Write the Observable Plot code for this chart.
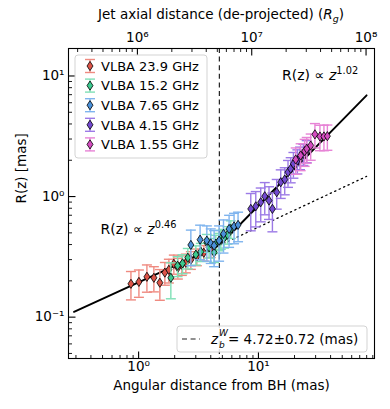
<!DOCTYPE html>
<html><head><meta charset="utf-8">
<script src="https://cdn.jsdelivr.net/npm/d3@7"></script>
<script src="https://cdn.jsdelivr.net/npm/@observablehq/plot@0.6"></script>
<style>body{margin:0;background:#fff;font-family:"DejaVu Sans";}</style>
</head><body><div id="chart"></div>
<script>
// ---- data ----
const seriesNames = ["VLBA 23.9 GHz","VLBA 15.2 GHz","VLBA 7.65 GHz","VLBA 4.15 GHz","VLBA 1.55 GHz"];
const markerColors = ["#dc5448","#3cc98f","#4a90d9","#7249d0","#d44cc0"];
const barColors = ["#ef8a80","#7fe0b6","#7fb4ee","#9c7ae6","#e784d6"];

const z239 = [0.863,1.006,1.173,1.341,1.504,1.656,1.789,1.968,2.126,2.296,2.478,2.729,3.06,3.50,4.00];
const r239 = [0.189,0.196,0.216,0.212,0.193,0.234,0.247,0.277,0.257,0.272,0.283,0.299,0.317,0.342,0.362];
const e239 = [0.05,0.05,0.055,0.05,0.055,0.05,0.055,0.05,0.05,0.05,0.05,0.05,0.05,0.05,0.05];

const z152 = [1.858,2.113,2.326,2.575,3.003,3.305,3.71,3.875,4.266,4.406,4.695,4.85,5.17,5.52,5.88];
const r152 = [0.212,0.267,0.279,0.311,0.330,0.349,0.415,0.379,0.344,0.407,0.425,0.445,0.454,0.483,0.539];
const e152 = [0.07,0.05,0.05,0.06,0.06,0.06,0.07,0.07,0.06,0.07,0.07,0.08,0.08,0.08,0.09];

const z765 = [2.729,3.26,3.71,4.00,4.266,4.695,5.11,5.69,6.26,6.76];
const r765 = [0.397,0.439,0.431,0.409,0.392,0.431,0.490,0.539,0.566,0.582];
const e765 = [0.13,0.14,0.14,0.13,0.13,0.14,0.15,0.16,0.16,0.16];

const z415 = [8.63,9.50,10.45,11.29,12.25,13.08,14.21,15.35,16.57,17.65,18.58,19.58,21.13,22.22,23.71,25.27];
const r415 = [0.790,0.830,0.897,1.006,0.926,0.790,1.086,1.315,1.384,1.592,1.70,1.87,1.99,2.12,2.26,2.41];
const e415 = [0.27,0.27,0.28,0.30,0.28,0.28,0.30,0.35,0.35,0.40,0.40,0.45,0.45,0.45,0.45,0.50];

const z155 = [20.46,22.5,24.3,25.3,27.3,29.6,32.6,35.2,37.6];
const r155 = [2.03,2.19,2.38,2.49,2.65,3.28,3.15,3.15,3.17];
const e155 = [0.5,0.55,0.6,0.6,0.65,0.75,0.75,0.75,0.75];

// fitted broken power law and inner-law extension
const fitZ = [0.289, 4.72, 79.9];
const fitR = [0.1107, 0.393, 6.91];
const extZ = [4.72, 79.9];
const extR = [0.393, 1.47];
const zBreak = 4.72;

// axis ticks
const xMajor = [1, 10];
const xMajorLabels = ["10⁰","10¹"];
const yMajor = [0.1, 1, 10];
const yMajorLabels = ["10⁻¹","10⁰","10¹"];
const topMajorRg = [1e6, 1e7, 1e8];
const topMajorLabels = ["10⁶","10⁷","10⁸"];

// ---- helpers ----
const zs = [z239,z152,z765,z415,z155], rs=[r239,r152,r765,r415,r155], es=[e239,e152,e765,e415,e155];
const tables = zs.map((z,i)=> z.map((v,j)=>({series:seriesNames[i], z:v, r:rs[i][j], e:es[i][j]})));
const fitRows = fitZ.map((z,i)=>({z, r:fitR[i]}));
const extRows = extZ.map((z,i)=>({z, r:extR[i]}));

const xDomain=[0.26,93], yDomain=[0.0454,16.9];
function minors(lo, hi){ const out=[]; for(let p=Math.floor(Math.log10(lo)); p<=Math.ceil(Math.log10(hi)); p++) for(let k=2;k<=9;k++){const v=k*10**p; if(v>lo&&v<hi) out.push(v);} return out;}
// top axis: Rg -> mas mapping of the twin axis
const rgToMas = rg => 10 ** (0.944 + 0.954*(Math.log10(rg)-7));
const masToRg = m => 10 ** (7 + (Math.log10(m)-0.944)/0.954);
const topMinorRg = minors(masToRg(xDomain[0]), masToRg(xDomain[1])).filter(v=>!topMajorRg.includes(v));

const sym = f => ({draw(ctx){ f(ctx); }});
const thinDiamond = sym(c=>{c.moveTo(0,-4.6);c.lineTo(3,0);c.lineTo(0,4.6);c.lineTo(-3,0);c.closePath();});
const capSym = sym(c=>{c.moveTo(-5,0);c.lineTo(5,0);});
const tUp = L => sym(c=>{c.moveTo(0,0);c.lineTo(0,-L);});
const tDown = L => sym(c=>{c.moveTo(0,0);c.lineTo(0,L);});
const tRight = L => sym(c=>{c.moveTo(0,0);c.lineTo(L,0);});

const marks = [
  Plot.ruleX([zBreak], {stroke:"#222", strokeWidth:1.2, strokeDasharray:"5,3.6"}),
  Plot.line(extRows, {x:"z", y:"r", stroke:"black", strokeWidth:1.3, strokeDasharray:"1.3,3.6"}),
  Plot.line(fitRows, {x:"z", y:"r", stroke:"black", strokeWidth:1.9}),
];
tables.forEach((t,i)=>{
  marks.push(Plot.ruleX(t, {x:"z", y1:d=>d.r-d.e, y2:d=>d.r+d.e, stroke:barColors[i], strokeWidth:1.4}));
  marks.push(Plot.dot(t, {x:"z", y:d=>d.r-d.e, symbol:capSym, fill:"none", stroke:barColors[i], strokeWidth:1.4}));
  marks.push(Plot.dot(t, {x:"z", y:d=>d.r+d.e, symbol:capSym, fill:"none", stroke:barColors[i], strokeWidth:1.4}));
  marks.push(Plot.dot(t, {x:"z", y:"r", symbol:thinDiamond, fill:markerColors[i], stroke:"black", strokeWidth:0.8}));
});
const xMinor = minors(xDomain[0], xDomain[1]);
const yMinor = minors(yDomain[0], yDomain[1]);
marks.push(
  Plot.frame({stroke:"black", strokeWidth:1.1}),
  // bottom ticks
  Plot.dot(xMajor, {x:d=>d, frameAnchor:"bottom", symbol:tUp(7), fill:"none", stroke:"black", strokeWidth:1.1}),
  Plot.dot(xMinor, {x:d=>d, frameAnchor:"bottom", symbol:tUp(3.5), fill:"none", stroke:"black", strokeWidth:0.9}),
  Plot.text(xMajor, {x:d=>d, frameAnchor:"bottom", dy:12, text:(d,i)=>xMajorLabels[i], fontSize:13.5}),
  // left ticks
  Plot.dot(yMajor, {y:d=>d, frameAnchor:"left", symbol:tRight(7), fill:"none", stroke:"black", strokeWidth:1.1}),
  Plot.dot(yMinor, {y:d=>d, frameAnchor:"left", symbol:tRight(3.5), fill:"none", stroke:"black", strokeWidth:0.9}),
  Plot.text(yMajor, {y:d=>d, frameAnchor:"left", dx:-4, textAnchor:"end", text:(d,i)=>yMajorLabels[i], fontSize:13.5}),
  // top ticks (twin axis in Rg)
  Plot.dot(topMajorRg, {x:d=>rgToMas(d), frameAnchor:"top", symbol:tDown(7), fill:"none", stroke:"black", strokeWidth:1.1}),
  Plot.dot(topMinorRg, {x:d=>rgToMas(d), frameAnchor:"top", symbol:tDown(3.5), fill:"none", stroke:"black", strokeWidth:0.9}),
  Plot.text(topMajorRg, {x:d=>rgToMas(d), frameAnchor:"top", dy:-16, text:(d,i)=>topMajorLabels[i], fontSize:13.5}),
  // axis titles
  Plot.text(["Angular distance from BH (mas)"], {frameAnchor:"bottom", dy:31, text:d=>d, fontSize:13.5}),
  Plot.text(["R(z) [mas]"], {frameAnchor:"left", dx:-47, rotate:-90, text:d=>d, fontSize:13.5})
);

const plot = Plot.plot({
  width:390, height:409,
  marginLeft:68, marginRight:16, marginTop:48, marginBottom:51,
  style:{fontFamily:"DejaVu Sans", fontSize:"13px", background:"white", color:"black"},
  x:{type:"log", domain:xDomain, axis:null},
  y:{type:"log", domain:yDomain, axis:null},
  marks
});
document.getElementById("chart").appendChild(plot);

// ---- rich-text annotations and legends ----
const svg = d3.select(plot);
const xs = plot.scale("x"), ys = plot.scale("y");
const F = "DejaVu Sans";
function txt(g, x, y, s, size, extra={}){
  const t = g.append("text").attr("x",x).attr("y",y).attr("font-family",F).attr("font-size",size)
    .attr("text-anchor", extra.anchor || "start").attr("fill","black").text(s);
  if(extra.italic) t.attr("font-style","italic");
  return t;
}
function rich(x, y, parts, size, anchor="start"){
  const t = svg.append("text").attr("x",x).attr("y",y).attr("font-family",F).attr("font-size",size).attr("text-anchor",anchor).attr("fill","black");
  let shift = 0;
  parts.forEach(p=>{
    const s = t.append("tspan").text(p.t);
    if(p.i) s.attr("font-style","italic");
    const target = p.sup ? -size*0.42 : p.sub ? size*0.25 : 0;
    if(target!==shift){ s.attr("dy", target-shift); shift=target; }
    if(p.sup||p.sub) s.attr("font-size", size*0.7);
  });
  return t;
}
// top title
rich(221, 19, [{t:"Jet axial distance (de-projected) ("},{t:"R",i:1},{t:"g",i:1,sub:1},{t:")"}], 13.5, "middle");
// power-law annotations
rich(xs.apply(0.485), ys.apply(0.532)+5, [{t:"R(z) ∝ "},{t:"z",i:1},{t:"0.46",sup:1}], 14);
rich(xs.apply(15.9), ys.apply(10.1)+5, [{t:"R(z) ∝ "},{t:"z",i:1},{t:"1.02",sup:1}], 14);

// series legend (upper left)
const lg = svg.append("g");
lg.append("rect").attr("x",75).attr("y",55).attr("width",132).attr("height",103).attr("rx",3)
  .attr("fill","white").attr("fill-opacity",0.85).attr("stroke","#d3d3d3");
seriesNames.forEach((name,i)=>{
  const cy = 66 + i*19.6, cx = 90;
  lg.append("line").attr("x1",cx).attr("x2",cx).attr("y1",cy-6.5).attr("y2",cy+6.5).attr("stroke",barColors[i]).attr("stroke-width",1.4);
  [cy-6.5, cy+6.5].forEach(yy=>lg.append("line").attr("x1",cx-5).attr("x2",cx+5).attr("y1",yy).attr("y2",yy).attr("stroke",barColors[i]).attr("stroke-width",1.4));
  lg.append("path").attr("d",`M${cx},${cy-4.6}L${cx+3},${cy}L${cx},${cy+4.6}L${cx-3},${cy}Z`).attr("fill",markerColors[i]).attr("stroke","black").attr("stroke-width",0.8);
  txt(lg, 101, cy+4.7, name, 13);
});

// break legend (lower right)
const lb = svg.append("g");
lb.append("rect").attr("x",177).attr("y",326).attr("width",190).attr("height",26).attr("rx",3)
  .attr("fill","white").attr("fill-opacity",0.85).attr("stroke","#d3d3d3");
lb.append("line").attr("x1",182).attr("x2",200).attr("y1",339).attr("y2",339).attr("stroke","#222").attr("stroke-width",1.2).attr("stroke-dasharray","5,3.6");
txt(lb, 211, 343.5, "z", 13.5, {italic:1});
txt(lb, 219, 336, "W", 9, {italic:1});
txt(lb, 219, 348, "b", 9, {italic:1});
txt(lb, 228, 343.5, "= 4.72±0.72 (mas)", 13.5);
</script>
</body></html>
